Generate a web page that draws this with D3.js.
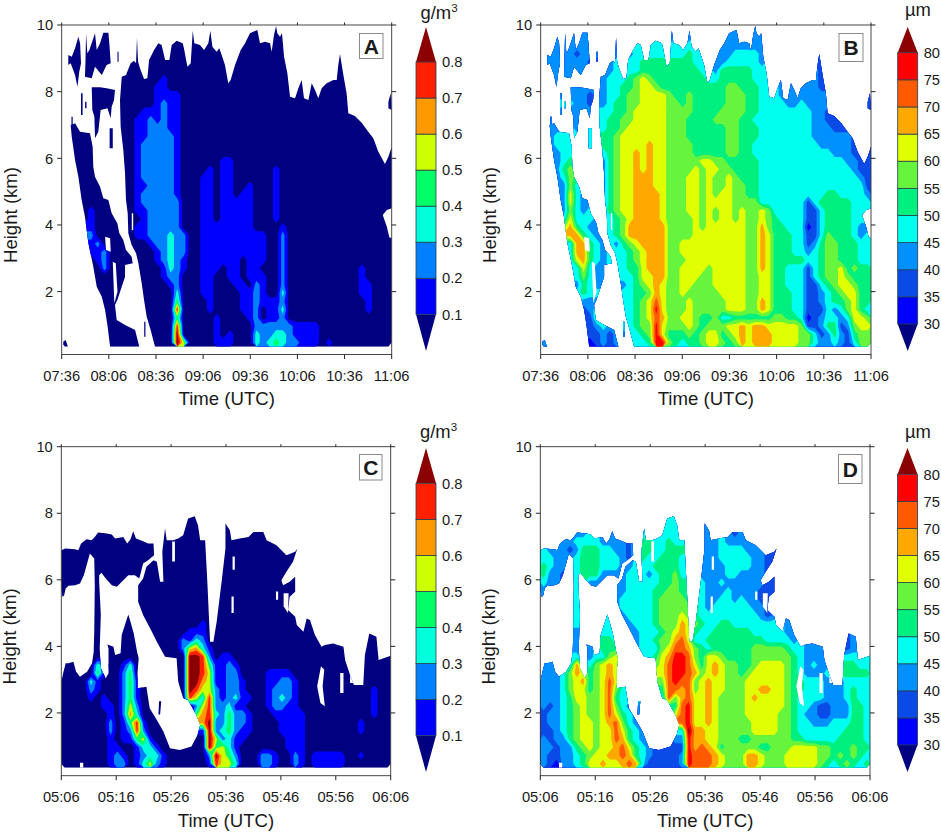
<!DOCTYPE html>
<html>
<head>
<meta charset="utf-8">
<script src="https://cdn.jsdelivr.net/npm/d3@7"></script>
<style>
html,body{margin:0;padding:0;background:#fff}
svg{display:block}
text{font-family:"Liberation Sans",Arimo,Helvetica,sans-serif;fill:#1a1a1a}
</style>
</head>
<body>
<svg id="fig" width="941" height="834"></svg>
<script>
// grids: one string per height row (top to bottom), one char per time step
// "." = nothing read there, the other chars are the colour class of the cell
var gridA = [
"..... ..... ..... ..... ..... ..... ..1.. ..... ..... .....",
"..11. 11... .1... ..... 1.1.. ....1 1.11. ..... ..... .....",
"..11. 111.. .1..1 1.11. 1.11. ...11 1111. ..... ..... .....",
".111. 111.. .1.11 11111 11111 ..111 1111. ..... ..... .....",
".1111 111.. 11.11 11111 11111 ..111 1111. ..... ..1.. .....",
"..111 111.1 11111 11111 11111 .1111 11111 ..... ..1.. .....",
"..1.. ....1 11111 21111 11111 11111 11111 ..... .11.. .....",
"...1. 111.1 11112 21111 11111 11111 11111 .1.11 111.. .....",
"...1. 111.1 11112 22211 11111 11111 11111 11111 111.. .....",
"...1. 111.1 11112 32211 11111 11111 11111 11111 111.. ....1",
"...1. 1.1.1 11222 32211 11111 11111 11111 11111 1111. .....",
"...1. 1...1 12232 32211 11111 11111 11111 11111 11111 1....",
".111. ....1 12233 32211 11111 11111 11111 11111 11111 11...",
".1111 ..1.1 12233 33211 11111 11111 11111 11111 11111 111..",
".1111 ..1.1 12333 33211 11111 11111 11111 11111 11111 111..",
"..111 ....1 12333 33211 11111 11111 11111 11111 11111 1111.",
"..111 ....1 12333 33211 11112 21111 11111 11111 11111 1111.",
"..111 1...1 12333 33211 11212 21111 11211 11111 11111 11111",
"..111 1...1 12333 33211 12212 21111 11211 11111 11111 11111",
"...11 1...1 12233 33211 12212 21121 11211 11111 11111 11111",
"...11 11..1 12333 33211 12212 21221 11211 11111 11111 11111",
"...11 111.1 12333 33311 12212 22221 11211 11111 11111 11111",
"...12 111.. 12233 33311 12212 22221 11211 11111 11111 111..",
"...12 1111. 11233 33311 12212 22221 11211 11111 11111 111..",
"....2 1111. 12233 33311 12222 22221 11121 11111 11111 1111.",
"....3 11111 12233 34331 12222 22222 21131 11111 11111 1111.",
"....2 31.11 .1123 34331 12222 22222 21131 11111 11111 11111",
"....2 23111 1.112 34331 12222 22222 21131 11111 11111 11111",
"....1 23111 1.112 34321 12222 22122 21131 11111 11111 11111",
"..... 1311. ..111 24321 12221 22122 11131 11111 11111 21111",
"..... 1111. ...11 23311 12211 22122 21131 11111 11111 21111",
"..... 1111. ..111 12311 12211 12213 21131 11111 11111 22111",
"..... 111.. ...11 11411 12211 11223 21141 11111 11111 22111",
"..... .11.. ...11 11511 11211 11223 22231 11111 11111 12111",
"..... .11.. ...11 11811 11211 11223 12241 11111 11111 12111",
"..... .111. ...11 11511 11121 11123 12231 11111 11111 11111",
"..... .1111 ...11 11811 11121 11113 33333 22221 11111 11111",
"..... ..111 11..1 11911 11121 21114 33443 22221 11111 11111",
"1.... ..111 11..1 11961 11122 21114 34543 32221 21111 11111"
];
var gridB = [
"..... ..... ..... ..... ..... ..... ..4.. ..... ..... .....",
"..44. 44... .4... ..... 4.4.. ....4 4.44. ..... ..... .....",
"..44. 444.. .4..5 5.55. 5.55. ...44 4444. ..... ..... .....",
".444. 344.. .4.45 55555 55655 ..445 5554. ..... ..... .....",
".4444 443.. 45.55 66666 66655 ..455 5554. ..... ..3.. .....",
"..444 444.4 45555 66666 66665 .4666 66555 ..... ..3.. .....",
"..4.. ....4 55567 87666 66666 55666 66555 ..... .43.. .....",
"...4. 444.4 55667 88766 66666 66677 66655 .4.44 443.. .....",
"...4. 443.4 55677 88887 66766 66677 76655 54444 444.. .....",
"...5. 443.4 56677 88887 76766 66677 76655 55445 444.. ....3",
"...4. 4.4.5 56678 88887 77766 66777 76655 55555 5443. .....",
"...4. 4...5 66778 88887 77666 67777 66555 55555 54433 3....",
".444. ....5 66788 88887 77666 66677 66655 55555 54443 33...",
".4555 ..5.6 67888 88887 77666 66677 66655 55555 54444 443..",
".4555 ..5.6 67888 89887 77766 66677 66555 55555 55444 443..",
"..455 ....5 67889 89887 77766 66677 66555 55555 55554 4433.",
"..456 ....4 67889 89887 77778 87766 66655 55555 55555 5443.",
"..467 6...4 67889 89887 77787 88776 66655 55555 55555 55433",
"..457 6...4 67889 99887 77887 87787 66655 55555 55555 55543",
"...47 5...4 67889 99887 77887 87787 76655 55555 55555 55553",
"...48 54..4 67889 99987 77887 87887 76655 55555 55566 55554",
"...48 544.4 67889 99987 77887 88887 77755 55555 35666 66555",
"...47 545.. 67889 99987 77887 87887 87787 55555 33566 665..",
"...58 5554. 56789 99987 77787 87887 87787 65555 33566 665..",
"....9 6544. 56799 99997 77787 88888 87797 66555 23566 6654.",
"....9 96544 56799 99997 77788 88888 87798 66655 33576 6654.",
"....5 99.54 .4678 99997 78888 88888 87798 66655 34677 66655",
"....5 99654 5.567 89997 78888 88888 87798 66655 45677 66655",
"....5 89654 5.567 89997 77888 88888 87798 66666 55677 66655",
"..... 5854. ..566 89997 78888 78888 87798 66555 35677 86766",
"..... 5754. ...56 88997 78887 78888 87788 66555 35677 87666",
"..... 4654. ..456 78987 78877 78888 87788 66555 33567 88766",
"..... 565.. ...56 67987 78777 77888 87788 66655 33456 78866",
"..... .44.. ...56 78a87 77877 77788 87798 66655 33456 67866",
"..... .34.. ...56 78b87 77877 77788 87798 66655 33354 57865",
"..... .336. ...56 78a97 78876 67556 66666 77665 23455 45887",
"..... .3345 ...56 77b87 77876 77788 98998 88887 33466 34788",
"..... ..334 34..5 67b86 66767 88678 98999 88887 75346 43677",
"4.... ..234 34..5 56bb7 65667 88767 98999 88887 75445 43577"
];
var gridC = [
"..... ..... ..... ..... ..... ..... ..... ..... ..... .....",
"..... ..... ..... ..... ..... ..... ..... ..... ..... .....",
"..... ..... ..... ..... ..... ..... ..... ..... ..... .....",
"..... ..... ..... ..... ..... ..... ..... ..... ..... .....",
"..... ..... ..... ..... ..... ..... ..... ..... ..... .....",
"..... ..... ..... ..... ..... ..... ..... ..... ..... .....",
"..... ..... ..... ..... ..... ..... ..... ..... ..... .....",
"..... ..... ..... ..... ..... ..... ..... ..... ..... .....",
"..... ..... ..... ....1 1.... ..... ..... ..... ..... .....",
"..... ..... ..... ....1 1.... 1.... ..... ..... ..... .....",
"..... 11... 1.... 1...1 1.... 1...1 ..... ..... ..... .....",
"...11 11111 11... 1.111 1.... 11111 11... ..... ..... .....",
"11111 11111 1111. 11.11 1.... 11111 11111 1.... ..... .....",
"1111. 11111 1111. 11111 11... 11111 11111 ..... ..... .....",
"1111. 11111 111.. 11111 11... 1.111 11111 ..... ..... .....",
"1111. 11.11 11.1. 11111 11... 1.111 11111 ..... ..... .....",
"1111. 1..11 ..111 11111 11... 11111 111.1 ..... ..... .....",
"1.... 1.... ..111 11111 11..1 11111 111.1 1.... ..... .....",
"..... 1.... .1111 11111 111.1 11111 11111 ..... ..... .....",
"..... 1.... .1111 11111 111.1 11111 11111 ..... ..... .....",
"..... 1...1 1.111 11111 111.1 11111 11111 ..... ..... .....",
"..... 1...1 1..11 11111 121.1 11111 11111 1.1.. ..... .....",
"..... 1...1 11..1 11112 221.1 11111 11111 111.. ..... .....",
"..... 1...1 11..1 11132 43111 11111 11111 1111. ..... .11..",
"..... 111.1 11..1 11136 74211 11111 11111 11111 111.. .11..",
"..... 1.111 11... 11119 98312 21111 11111 11111 1111. .11.1",
"111.1 4.112 41... ...19 98522 32111 11111 11111 1111. .1111",
"111.1 5.113 51... ...19 98622 33111 12222 1111. 11.1. .1111",
"11114 21113 52... ...19 97622 33211 12233 2111. 11.11 .1111",
"11113 21113 521.. ...19 86632 33211 12333 2111. 11.11 11211",
"11112 12113 521.. ...18 64832 34221 12343 2111. 11111 11211",
"11111 12213 6311. ....1 36833 42211 12332 21111 11111 11211",
"11111 11213 74111 ..... .7843 53321 11222 22111 11111 11211",
"11111 11312 58211 1.... .7933 53321 11122 22111 11111 21111",
"11111 11312 38311 11... .2934 53221 11122 22111 11111 21111",
"11111 11212 25621 11... .1963 42211 11112 22111 11111 11111",
"11111 11221 12442 11111 .1956 42111 11112 22111 11111 11111",
"11111 11232 12344 21111 11396 53111 33211 32122 22211 21111",
"11111 11233 12463 21111 11286 64111 33211 32122 22211 11111"
];
var gridD = [
"..... ..... ..... ..... ..... ..... ..... ..... ..... .....",
"..... ..... ..... ..... ..... ..... ..... ..... ..... .....",
"..... ..... ..... ..... ..... ..... ..... ..... ..... .....",
"..... ..... ..... ..... ..... ..... ..... ..... ..... .....",
"..... ..... ..... ..... ..... ..... ..... ..... ..... .....",
"..... ..... ..... ..... ..... ..... ..... ..... ..... .....",
"..... ..... ..... ..... ..... ..... ..... ..... ..... .....",
"..... ..... ..... ..... ..... ..... ..... ..... ..... .....",
"..... ..... ..... ....5 5.... ..... ..... ..... ..... .....",
"..... ..... ..... ....5 5.... 4.... ..... ..... ..... .....",
"..... 44... 4.... 5...5 5.... 4...3 ..... ..... ..... .....",
"...44 55554 44... 6.556 5.... 44544 44... ..... ..... .....",
"54443 46665 5443. 66.56 6.... 44555 54443 3.... ..... .....",
"5544. 56665 5543. 65566 65... 44555 55443 ..... ..... .....",
"6544. 56665 554.. 55666 65... 4.455 55443 ..... ..... .....",
"6443. 56.64 44.5. 54566 75... 4.455 44443 ..... ..... .....",
"5443. 5..44 ..455 55566 76... 44544 444.3 ..... ..... .....",
"4.... 5.... ..455 55667 76..5 44454 444.3 3.... ..... .....",
"..... 5.... .4555 55677 776.5 44554 54433 ..... ..... .....",
"..... 5.... .4555 55677 777.5 45555 55443 ..... ..... .....",
"..... 5...4 5.455 55677 787.5 55555 55543 ..... ..... .....",
"..... 5...5 5..45 55677 798.6 55665 55555 5.4.. ..... .....",
"..... 4...5 55..4 55567 898.5 56666 66555 554.. ..... .....",
"..... 4...6 65..4 55677 9a855 66666 66665 5554. ..... .34..",
"..... 444.6 66..4 55578 aa976 56666 66777 77655 444.. .34..",
"..... 5.455 78... 55689 bba76 88766 66777 77765 4444. .55.5",
"444.5 9.578 98... ...8a bba86 89877 66788 88765 4544. .6655",
"444.7 9.678 98... ...8a bba97 89877 67888 8876. 44.5. .6666",
"44457 89678 a8... ...7a baa78 98877 78888 8876. 55.44 .5555",
"44457 88678 a75.. ...6a a9a78 98877 78899 8876. 55.44 45655",
"44456 88778 a65.. ...5a 79a88 98777 78988 8876. 55544 45655",
"43456 78778 a754. ....6 6ab88 98777 78888 88765 54334 44665",
"34456 78778 a8654 ..... .ab88 98777 78888 87765 44334 44665",
"34456 78878 9a754 4.... .ab88 98777 77888 87765 54445 55665",
"33456 78878 8a865 43... .5c99 88777 77888 87765 55555 56665",
"43446 78878 8a965 43... .4b99 88777 66777 77766 55555 66665",
"44344 67878 89a86 54333 .3b9a 98677 77766 77788 88776 66766",
"43344 56788 99a96 54333 34baa a9877 79987 77888 88776 76765",
"43244 56889 889a9 53333 34baa a9877 79987 77888 88765 67656"
];

// cloud outlines: [minutes after start, km]
var cloudUpper = [
 [[59.4,.35],[56.6,.85],[54.1,1.25],[52.4,1.75],[50.9,2.25],[48.8,2.85],[47.3,3.15],[44.5,3.4],[42.4,3.75],[42,4.35],[40.9,4.75],[40.3,5.55],[39.2,6.25],[37.5,6.95],[37.1,7.75],[38.2,8.45],
  [40.9,8.5],[43.9,8.85],[46,8.93],[47.3,8.85],[47.9,9.62],[48.6,8.9],[49.8,8.7],[52.4,8.38],[54.5,8.4],[55.6,8.95],[58.8,9.25],[61.5,9.45],[63.6,9.4],[65.8,8.95],[68.5,8.95],[70,9.4],[73.2,9.53],[77,9.45],[77.8,9.3],[80,8.75],[82.1,8.85],[83.4,9.83],[84.4,9.45],[88,9.4],[90.6,9.25],[93.3,9.45],[94.6,9.83],[95.9,9.35],[98.6,9.2],[100.3,9.3],[101.8,9.1],[103.9,8.8],[106,8.25],[107.5,8.35],[110.3,8.8],[113.9,9.25],[116.7,9.45],[119.8,9.75],[124.5,9.85],[126.2,9.45],[129.4,9.5],[132.6,9.45],[133.6,9.2],[135.1,9.7],[136.4,9.97],[137.2,9.75],[138.9,9.65],[140.2,9.75],[141.5,9.05],[143.6,8.55],[145.3,7.85],[148.5,7.8],[150.6,8.1],[152.7,8.35],[154.2,7.8],[157,7.75],[159.1,8.25],[161.2,8.05],[163.3,7.8],[165.4,8.1],[168.6,8.25],[172.9,8.35],[175,8.35],[176,8.8],[177.1,9.13],[178.4,8.75],[179.6,8.4],[181.3,7.95],[182.4,7.35],[186.6,7.27],[190.9,7.07],[195.1,6.8],[198.3,6.6],[201.5,6.2],[205.7,5.83],[207.9,6.05],[210,6.35],
  [210,4.5],[206.9,4.45],[204.3,4.3],[206.9,3.95],[208.5,3.63],[210,3.6],[210,.35]],
 [[5.7,7],[8.5,7.05],[11.7,6.8],[18,6.75],[19.7,6.35],[20.1,5.75],[21.2,5.45],[24.4,5.15],[26.5,4.8],[29.7,4.75],[31.8,4.35],[35.4,4.05],[36.7,3.75],[39.2,3.55],[40.9,3.25],[44.5,3.05],[45.2,2.85],[40.3,2.8],[40.3,2.45],[38.2,2.15],[35.4,1.75],[33.9,1.6],[35,1.15],[40.3,1],[44.5,.9],[46.7,.85],[49.4,.35],[30.8,.35],[29.1,1],[27.6,1.45],[25.5,1.85],[22.3,2.15],[20.1,2.75],[17,3.45],[14.8,4.25],[12.7,4.75],[10.6,5.45],[8.5,5.95],[6.4,6.65]],
 [[4.2,9.1],[6.4,9.05],[8.5,9.3],[10.6,9.65],[11.7,9.45],[12.3,8.85],[11.2,8.6],[10,8.15],[8.5,8.5],[5.7,8.85],[4.2,8.8]],
 [[14.8,8.45],[15.1,8.85],[15.5,9.75],[16.3,9.15],[17.6,9.25],[21.2,9.75],[22.3,9.25],[24.4,9.45],[26.5,9.77],[29.7,9.77],[30.3,9.45],[31.2,8.85],[28.6,8.8],[25.5,8.5],[21.2,8.75],[19.1,8.4]],
 [[19.1,8.13],[24.4,8.13],[28.6,8.1],[33.9,8.05],[33.3,7.75],[31.8,7.55],[31.2,7.2],[29.1,7.5],[24.8,7.45],[23.3,6.8],[21.2,6.6],[20.8,7.25],[19.5,7.45]],
 [[12.3,7.95],[13.3,7.95],[13.3,7.3],[12.3,7.3]],
 [[30.5,6.9],[32.5,6.9],[32.5,6.3],[30.5,6.3]],
 [[6.2,7.25],[7,7.25],[7,7],[6.2,7]],
 [[14.9,7.7],[15.8,7.7],[15.8,7.5],[14.9,7.5]],
 [[35.5,9.2],[36.2,9.2],[36.2,8.9],[35.5,8.9]],
 [[52.5,1.1],[53.3,1.1],[53.3,.65],[52.5,.65]],
 [[1,.5],[2.5,.55],[4,.35],[1,.35]],
 [[207.9,7.7],[209.3,7.95],[210,7.45],[207.9,7.5]],
 [[180,7.85],[181,7.85],[181,7.6],[180,7.6]]
];
var holesUpper = [
 [[27.6,3.65],[30.8,3.6],[31.2,3.2],[28.2,3.25]],
 [[32.5,2.9],[34.4,2.85],[35.5,2],[33.5,1.65]],
 [[44.6,4.35],[45.5,4.35],[45.5,3.85],[44.6,3.85]]
];
var cloudLower = [
 [[0,.35],[0,2.94],[.4,3.24],[.8,3.49],[1.3,3.49],[2.2,3.54],[2.7,3.24],[3.4,3.09],[4.7,3.24],[5.6,3.49],[5.9,3.84],[6,4.44],[6.1,5.84],[6,6.64],[5.2,6.79],[4.7,6.49],[4.1,6.14],[3.4,5.89],[2.5,5.84],[1.3,5.82],[.8,5.74],[.5,5.52],[.2,5.49],[0,5.74],[0,6.89],[.7,6.94],[2.5,6.92],[3.1,6.89],[3.6,7.09],[4.6,7.22],[5.5,7.19],[6.1,7.29],[6.7,7.42],[8.3,7.39],[9.2,7.36],[9.8,7.24],[11.3,7.29],[12,7.09],[12.6,7.22],[13.1,7.46],[13.6,7.24],[14.9,7.16],[15.8,7.09],[16.8,7.09],[16.9,6.74],[15.8,6.59],[14.9,6.49],[14.6,6.29],[14.2,6.04],[13.4,6.14],[12.2,6.14],[11.3,5.99],[10.1,5.79],[9.2,5.84],[8.1,6.04],[7.3,6.21],[6.9,6.14],[6.9,5.94],[7.2,4.94],[7,3.94],[7.2,3.34],[8.1,3.04],[8.6,3.19],[8.6,3.94],[8.4,4.06],[9.5,3.99],[9.8,3.74],[10.8,3.79],[11,4.34],[12.2,4.96],[12.6,4.74],[13.2,4.39],[13.8,3.84],[14.1,3.64],[13.9,3.24],[13.9,2.74],[15.5,2.79],[16.1,2.14],[17.4,1.79],[18.6,1.44],[19.8,.94],[21.6,.89],[23.7,.99],[24.8,1.34],[25.3,1.64],[24.6,1.94],[23.9,2.14],[23.1,2.39],[22.2,2.44],[21.3,2.94],[21,3.64],[18.9,3.69],[17.4,4.14],[16.5,4.44],[14.9,4.94],[14,5.34],[14,5.84],[14.9,6.04],[15.5,6.39],[16.8,6.59],[17.4,6.54],[18,5.94],[18.6,5.94],[18.4,6.84],[18.9,7.54],[19.2,7.19],[20.4,7.19],[21.3,7.24],[22.2,7.34],[23.1,7.84],[24.3,7.91],[24.9,7.64],[25.3,7.19],[26.2,7.19],[26.6,5.94],[27.1,4.14],[27.7,4.14],[28.3,4.74],[29.2,5.94],[29.9,6.94],[29.9,7.69],[30.7,7.49],[31,7.19],[32.5,7.24],[34.1,7.29],[35,7.44],[36.8,7.44],[37.4,7.19],[39.2,7.04],[39.8,6.94],[41,6.74],[42.6,6.84],[43,6.94],[42.2,6.54],[41,6.24],[40.1,5.99],[40.4,5.84],[41.6,5.94],[42.6,6.09],[42.6,5.64],[41.6,5.49],[41.3,5.09],[42.6,4.89],[42.9,4.64],[44.1,4.44],[44.7,4.84],[45.3,4.79],[46.2,4.34],[47.4,3.99],[48,4.04],[49.5,4.09],[51.4,3.99],[51.7,3.59],[52.6,3.14],[53.3,2.84],[55,2.84],[55.3,3.74],[56.1,4.39],[57.4,4.29],[57.8,3.59],[60,3.72],[60,.35]],
 [[17.8,2.35],[18.2,2.35],[18,1.95],[17.7,1.95]]
];
var holesLower = [
 [[47.3,3.4],[47.9,3.3],[47.6,2.8],[48,2.2],[47.2,2.3],[46.6,2.8]],
 [[50.8,3.2],[51.4,3.2],[51.4,2.6],[50.8,2.6]],
 [[52.6,3.4],[53.2,3.4],[53.2,2.9],[52.6,2.9]],
 [[31.2,6.7],[31.6,6.7],[31.6,6.3],[31.2,6.3]],
 [[39.1,5.65],[39.5,5.65],[39.5,5.4],[39.1,5.4]],
 [[31,5.5],[31.4,5.5],[31.4,5],[31,5]],
 [[40.5,5.6],[41.4,5.6],[41.3,5],[40.5,5.2]],
 [[3.4,.5],[4,.5],[4,.35],[3.4,.35]],
 [[20.2,7.15],[20.7,7.15],[20.7,6.55],[20.2,6.55]]
];

var lwcColors = ["#000080","#0000ff","#0080ff","#00ffdd","#00ff66","#ccff00","#ff9900","#ff2000","#8b0000"];
var lwcLevels = [0.1,0.2,0.3,0.4,0.5,0.6,0.7,0.8];
var reColors = ["#000080","#0000ff","#0a4be8","#0090ff","#00ffee","#00f080","#66f53c","#e0ff00","#ffa800","#ff5a00","#ff0000","#8b0000"];
var reLevels = [30,35,40,45,50,55,60,65,70,75,80];

var timesUpper = ["07:36","08:06","08:36","09:06","09:36","10:06","10:36","11:06"];
var timesLower = ["05:06","05:16","05:26","05:36","05:46","05:56","06:06"];
var heightTicks = [2,4,6,8,10];
var topKm = 10, baseKm = 0.35;

var svg = d3.select("#fig");
var defs = svg.append("defs");

function toMinutes(s){
  var p = s.split(":");
  return +p[0]*60 + +p[1];
}

// cells with nothing read take the mean class of their neighbours, the outline cuts them later
function fillBlanks(values,nx,ny){
  var left = values.some(function(v){ return v==0; });
  while(left){
    var next = values.slice();
    left = false;
    for(var j=0;j<ny;j++){
      for(var i=0;i<nx;i++){
        if(values[j*nx+i]!=0) continue;
        var s=0,n=0;
        [[1,0],[-1,0],[0,1],[0,-1]].forEach(function(o){
          var a=i+o[0],b=j+o[1];
          if(a<0||b<0||a>=nx||b>=ny) return;
          var v=values[b*nx+a];
          if(v>0){s+=v;n++;}
        });
        if(n>0) next[j*nx+i]=Math.max(1,Math.round(s/n));
        else left=true;
      }
    }
    values=next;
  }
  return values;
}

function drawPanel(grid, colors, levels, times, cloud, holes, p){
  var rows = grid.map(function(r){ return r.replace(/ /g,""); });
  var ny = rows.length, nx = rows[0].length;
  var values = [];
  rows.forEach(function(r){
    for(var i=0;i<nx;i++){
      values.push(r[i]=="." ? 0 : parseInt(r[i],16));
    }
  });
  values = fillBlanks(values,nx,ny);

  var tVals = times.map(toMinutes);
  var x = d3.scaleLinear().domain([tVals[0],tVals[tVals.length-1]]).range([p.x0,p.x1]);
  var y = d3.scaleLinear().domain([0,10]).range([p.y0,p.y10]);
  var outline = d3.line().x(function(d){ return x(tVals[0]+d[0]); }).y(function(d){ return y(d[1]); });

  var clip = defs.append("clipPath").attr("id","cloud"+p.letter);
  cloud.forEach(function(c){ clip.append("path").attr("d",outline(c)+"Z"); });

  var g = svg.append("g").attr("clip-path","url(#cloud"+p.letter+")");

  // grid units -> time/height -> pixels
  var tf = d3.geoTransform({point:function(cx,cy){
    var t = x.domain()[0] + cx/nx*(x.domain()[1]-x.domain()[0]);
    var km = topKm - cy/ny*(topKm-baseKm);
    this.stream.point(x(t),y(km));
  }});
  var path = d3.geoPath(tf);
  var thresholds = colors.map(function(c,i){ return i+0.5; });
  var contours = d3.contours().size([nx,ny]).thresholds(thresholds)(values);
  g.selectAll("path.band").data(contours).enter().append("path")
    .attr("class","band")
    .attr("d",path)
    .attr("fill",function(d,i){ return colors[i]; });
  g.selectAll("path.hole").data(holes).enter().append("path")
    .attr("class","hole")
    .attr("d",function(d){ return outline(d)+"Z"; })
    .attr("fill","#fff");

  // frame
  var bottom = p.bottom;
  svg.append("rect").attr("x",p.x0).attr("y",p.y10).attr("width",p.x1-p.x0).attr("height",bottom-p.y10)
    .attr("fill","none").attr("stroke","#333").attr("stroke-width",0.9);

  var axis = svg.append("g").attr("stroke","#222").attr("stroke-width",1);
  tVals.forEach(function(t,i){
    axis.append("line").attr("x1",x(t)).attr("x2",x(t)).attr("y1",bottom).attr("y2",bottom+4.5);
    axis.append("line").attr("x1",x(t)).attr("x2",x(t)).attr("y1",p.y10).attr("y2",p.y10-2.5);
    svg.append("text").attr("x",x(t)).attr("y",p.tickBase).attr("text-anchor","middle")
      .attr("font-size",14.7).text(times[i]);
  });
  heightTicks.forEach(function(h){
    axis.append("line").attr("x1",p.x0-4.5).attr("x2",p.x0).attr("y1",y(h)).attr("y2",y(h));
    axis.append("line").attr("x1",p.x1).attr("x2",p.x1+4.5).attr("y1",y(h)).attr("y2",y(h));
    svg.append("text").attr("x",p.x0-8.5).attr("y",y(h)+5.2).attr("text-anchor","end")
      .attr("font-size",14.7).text(h);
  });

  svg.append("text").attr("x",(p.x0+p.x1)/2).attr("y",p.titleBase).attr("text-anchor","middle")
    .attr("font-size",18.6).text("Time (UTC)");
  svg.append("text").attr("transform","translate("+(p.x0-45)+","+(y(4.3))+") rotate(-90)")
    .attr("text-anchor","middle").attr("font-size",18.6).text("Height (km)");

  // panel letter
  svg.append("rect").attr("x",p.box[0]).attr("y",p.box[1]).attr("width",p.box[2]).attr("height",p.box[3])
    .attr("fill","#fff").attr("stroke","#8a8a8a").attr("stroke-width",1);
  svg.append("text").attr("x",p.box[0]+p.box[2]/2).attr("y",p.box[1]+p.box[3]/2+7.5)
    .attr("text-anchor","middle").attr("font-size",21).attr("font-weight","bold").text(p.letter);

  // colour bar
  var cb = p.cb;
  var cy = d3.scaleLinear().domain([levels[0],levels[levels.length-1]]).range([cb.yLow,cb.yHigh]);
  var bar = svg.append("g");
  bar.append("path").attr("d",d3.line()([[cb.x,cb.yHigh],[cb.x+cb.w/2,cb.tipTop],[cb.x+cb.w,cb.yHigh]])+"Z")
    .attr("fill",colors[colors.length-1]);
  bar.append("path").attr("d",d3.line()([[cb.x,cb.yLow],[cb.x+cb.w/2,cb.tipBot],[cb.x+cb.w,cb.yLow]])+"Z")
    .attr("fill",colors[0]);
  levels.slice(0,-1).forEach(function(v,i){
    bar.append("rect").attr("x",cb.x).attr("y",cy(levels[i+1])).attr("width",cb.w)
      .attr("height",cy(v)-cy(levels[i+1])).attr("fill",colors[i+1])
      .attr("stroke","#23404f").attr("stroke-width",0.8);
  });
  levels.forEach(function(v){
    svg.append("text").attr("x",cb.x+cb.w+6).attr("y",cy(v)+5.2).attr("font-size",14.7)
      .text(v<1 ? v.toFixed(1) : v);
  });
  var unit = svg.append("text").attr("x",cb.unitX).attr("y",cb.unitY).attr("font-size",18.4);
  if(p.unit=="lwc"){
    unit.append("tspan").text("g/m");
    unit.append("tspan").attr("font-size",11.5).attr("dy",-7).text("3");
  } else {
    unit.text("\u00b5m");
  }
}

drawPanel(gridA,lwcColors,lwcLevels,timesUpper,cloudUpper,holesUpper,{
  letter:"A",unit:"lwc",x0:61.7,x1:391.7,y0:358.3,y10:25,bottom:354.5,tickBase:381,titleBase:405,
  box:[359.5,33.5,23.5,25],
  cb:{x:416,w:20,yLow:314.3,yHigh:62,tipTop:27,tipBot:351,unitX:420.5,unitY:19}
});
drawPanel(gridB,reColors,reLevels,timesUpper,cloudUpper,holesUpper,{
  letter:"B",unit:"re",x0:540.7,x1:871,y0:358.3,y10:25,bottom:354.5,tickBase:381,titleBase:405,
  box:[839,33.5,24,28],
  cb:{x:897.7,w:20,yLow:324,yHigh:52.7,tipTop:27,tipBot:351,unitX:905,unitY:16}
});
drawPanel(gridC,lwcColors,lwcLevels,timesLower,cloudLower,holesLower,{
  letter:"C",unit:"lwc",x0:61.3,x1:390.7,y0:779.5,y10:446.7,bottom:775.7,tickBase:802,titleBase:826.5,
  box:[359.5,454.5,22.5,25.5],
  cb:{x:416,w:20,yLow:735.7,yHigh:483.3,tipTop:448,tipBot:772,unitX:420,unitY:438}
});
drawPanel(gridD,reColors,reLevels,timesLower,cloudLower,holesLower,{
  letter:"D",unit:"re",x0:540.3,x1:870,y0:779.5,y10:446.7,bottom:775.7,tickBase:802,titleBase:826.5,
  box:[838.5,454.5,23.5,29],
  cb:{x:897.5,w:20,yLow:745,yHigh:474.3,tipTop:448,tipBot:772,unitX:905,unitY:437.5}
});
</script>
</body>
</html>
